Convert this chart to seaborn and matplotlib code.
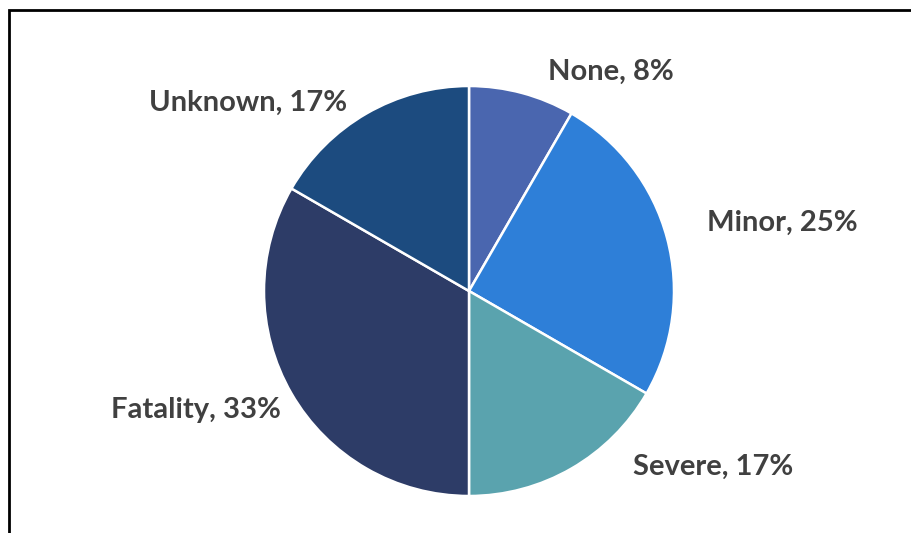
import matplotlib
matplotlib.use("Agg")
import matplotlib.pyplot as plt
import matplotlib.patches as mpatches
import seaborn as sns

categories = ["None", "Minor", "Severe", "Fatality", "Unknown"]
counts = [1, 3, 2, 4, 2]
pct_labels = ["8%", "25%", "17%", "33%", "17%"]
colors = ["#4A66AF", "#2E7FD8", "#5AA3AE", "#2D3C67", "#1C4B7F"]
# label anchor positions in pie-radius units (layout)
label_pos = [(0.69, 1.07), (1.53, 0.33), (1.19, -0.86), (-1.33, -0.58), (-1.08, 0.92)]

sns.set_theme(style="white")
plt.rcParams['font.family'] = ['Lato', 'DejaVu Sans']

W, H, DPI = 911, 533, 100
fig = plt.figure(figsize=(W / DPI, H / DPI), dpi=DPI)
ax = fig.add_axes([0, 0, 1, 1])

cx, cy, R = 469, 533 - 291, 205
ax.pie(counts, colors=colors, startangle=90, counterclock=False,
       wedgeprops=dict(edgecolor="white", linewidth=1.8))
ax.set_xlim(-cx / R, (W - cx) / R)
ax.set_ylim(-cy / R, (H - cy) / R)
ax.set_aspect("auto")
ax.axis("off")

for cat, pl, (x, y) in zip(categories, pct_labels, label_pos):
    ax.text(x, y, f"{cat}, {pl}", ha="center", va="center", fontsize=21,
            fontweight="bold", color="#404040")

border = mpatches.Rectangle((9 / W, -0.1), 1.2, (533 - 10) / H + 0.1,
                            transform=fig.transFigure, fill=False,
                            edgecolor="black", linewidth=2.0, clip_on=False)
fig.patches.append(border)

fig.savefig("out.png", dpi=DPI, facecolor="white")
